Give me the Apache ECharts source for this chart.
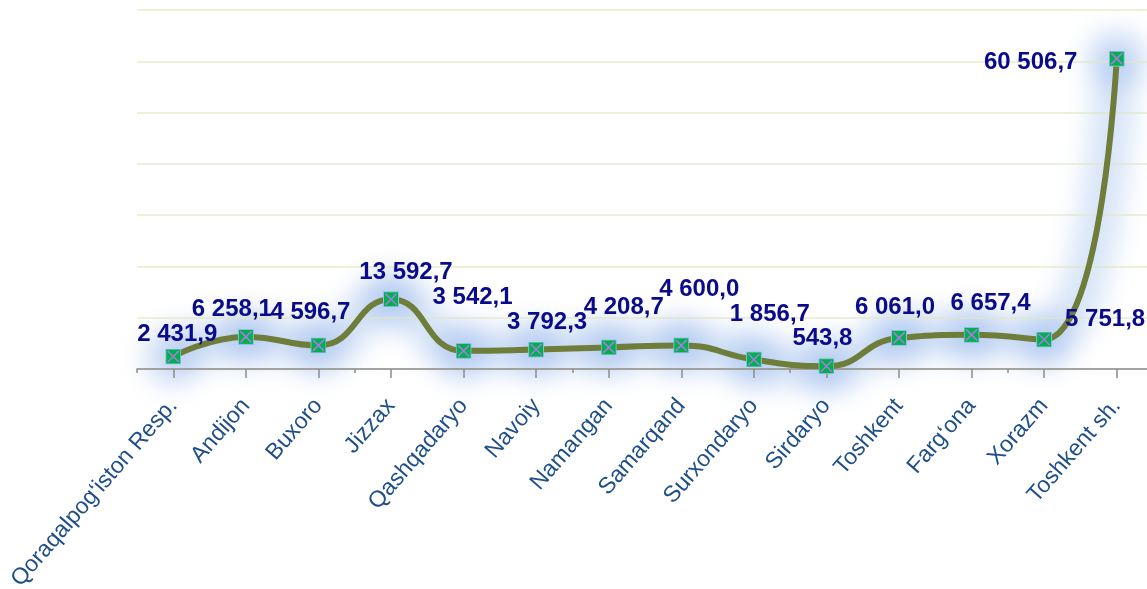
<!DOCTYPE html>
<html>
<head>
<meta charset="utf-8">
<style>
  html, body { margin: 0; padding: 0; background: #ffffff; }
  #wrap { position: relative; width: 1147px; height: 589px; }
  #glow, #chart { position: absolute; left: 0; top: 0; width: 1147px; height: 589px; }
  #glow { filter: blur(13px); }
</style>
<script src="https://cdn.jsdelivr.net/npm/echarts@6/dist/echarts.min.js"></script>
</head>
<body>
<div id="wrap">
  <div id="glow"></div>
  <div id="chart"></div>
</div>
<script>
// Regions of Uzbekistan
const regions = [
  'Qoraqalpog‘iston Resp.', 'Andijon', 'Buxoro', 'Jizzax', 'Qashqadaryo',
  'Navoiy', 'Namangan', 'Samarqand', 'Surxondaryo', 'Sirdaryo',
  'Toshkent', 'Farg‘ona', 'Xorazm', 'Toshkent sh.'
];

// Value per region
const values = [
  2431.9, 6258.1, 4596.7, 13592.7, 3542.1,
  3792.3, 4208.7, 4600.0, 1856.7, 543.8,
  6061.0, 6657.4, 5751.8, 60506.7
];

// Value axis range
const yMin = 0;
const yMax = 70000;
const yStep = 10000;

// Where each value label sits relative to its marker (px)
const labelOffsets = [
  [4, -22], [-14, -28], [-8, -33], [15, -27], [9, -53],
  [11, -27], [15, -40], [18, -56], [16, -45], [-4, -28],
  [-4, -31], [19, -31], [61, -20], [-86, 4]
];

// Marker: green square crossed by a violet X
const markerSvg =
  '<svg xmlns="http://www.w3.org/2000/svg" width="16" height="16" viewBox="0 0 16 16">' +
  '<rect x="0.5" y="0.5" width="15" height="15" fill="#00b050" stroke="#8fc3e8" stroke-width="1"/>' +
  '<path d="M2.5 2.5 L13.5 13.5 M13.5 2.5 L2.5 13.5" stroke="#a77be0" stroke-width="1.6"/>' +
  '</svg>';
const markerSymbol = 'image://data:image/svg+xml;charset=utf-8,' + encodeURIComponent(markerSvg);

function formatValue(v) {
  const parts = v.toFixed(1).split('.');
  const intPart = parts[0].replace(/\B(?=(\d{3})+(?!\d))/g, ' ');
  return intPart + ',' + parts[1];
}

const seriesData = values.map((v, i) => ({
  value: v,
  label: { offset: labelOffsets[i] }
}));

const gridBox = {
  left: 137, top: 10, width: 1016, height: 359,
  containLabel: false,
  outerBoundsMode: 'none'
};

// Blurred layer: a wide light-blue stroke that becomes the haze around the line
const glow = echarts.init(document.getElementById('glow'), null, { renderer: 'canvas' });
glow.setOption({
  animation: false,
  grid: gridBox,
  xAxis: { type: 'category', data: regions, boundaryGap: true, show: false },
  yAxis: { type: 'value', min: yMin, max: yMax, interval: yStep, show: false },
  series: [{
    type: 'line',
    data: values,
    smooth: 0.5,
    symbol: 'circle',
    symbolSize: 56,
    showAllSymbol: true,
    itemStyle: { color: 'rgba(140, 175, 232, 0.45)' },
    lineStyle: { color: 'rgba(175, 202, 240, 0.5)', width: 42 },
    silent: true,
    emphasis: { disabled: true }
  }]
});

const chart = echarts.init(document.getElementById('chart'), null, { renderer: 'canvas' });
chart.setOption({
  animation: false,
  backgroundColor: 'transparent',
  grid: gridBox,
  xAxis: [
    {
      type: 'category',
      data: regions,
      boundaryGap: true,
      axisLine: { show: true, lineStyle: { color: '#8c8c8c', width: 1.5 } },
      axisTick: { show: true, alignWithLabel: true, length: 9, lineStyle: { color: '#8c8c8c', width: 1.5 } },
      axisLabel: {
        interval: 0,
        rotate: 49,
        margin: 33,
        color: '#1f4f8a',
        fontFamily: 'Liberation Sans, Arial, sans-serif',
        fontSize: 23,
        hideOverlap: false
      },
      splitLine: { show: false }
    },
    {
      type: 'category',
      data: regions,
      boundaryGap: true,
      position: 'bottom',
      axisLine: { show: false },
      axisTick: { show: true, length: 4, lineStyle: { color: '#8c8c8c', width: 1.5 } },
      axisLabel: { show: false },
      splitLine: { show: false }
    }
  ],
  yAxis: {
    type: 'value',
    min: yMin,
    max: yMax,
    interval: yStep,
    axisLine: { show: false },
    axisTick: { show: false },
    axisLabel: { show: false },
    splitLine: { show: true, lineStyle: { color: 'rgba(225, 230, 195, 0.6)', width: 2 } }
  },
  series: [
    {
      type: 'line',
      xAxisIndex: 0,
      data: seriesData,
      smooth: 0.5,
      symbol: markerSymbol,
      symbolSize: 16,
      showAllSymbol: true,
      lineStyle: { color: '#6f7d3a', width: 6 },
      itemStyle: { color: '#00b050' },
      label: {
        show: true,
        position: 'inside',
        align: 'center',
        verticalAlign: 'middle',
        formatter: p => formatValue(p.value),
        color: '#0a0a8c',
        fontFamily: 'Liberation Sans, Arial, sans-serif',
        fontWeight: 'bold',
        fontSize: 24
      },
      emphasis: { disabled: true },
      z: 3
    }
  ]
});
</script>
</body>
</html>
